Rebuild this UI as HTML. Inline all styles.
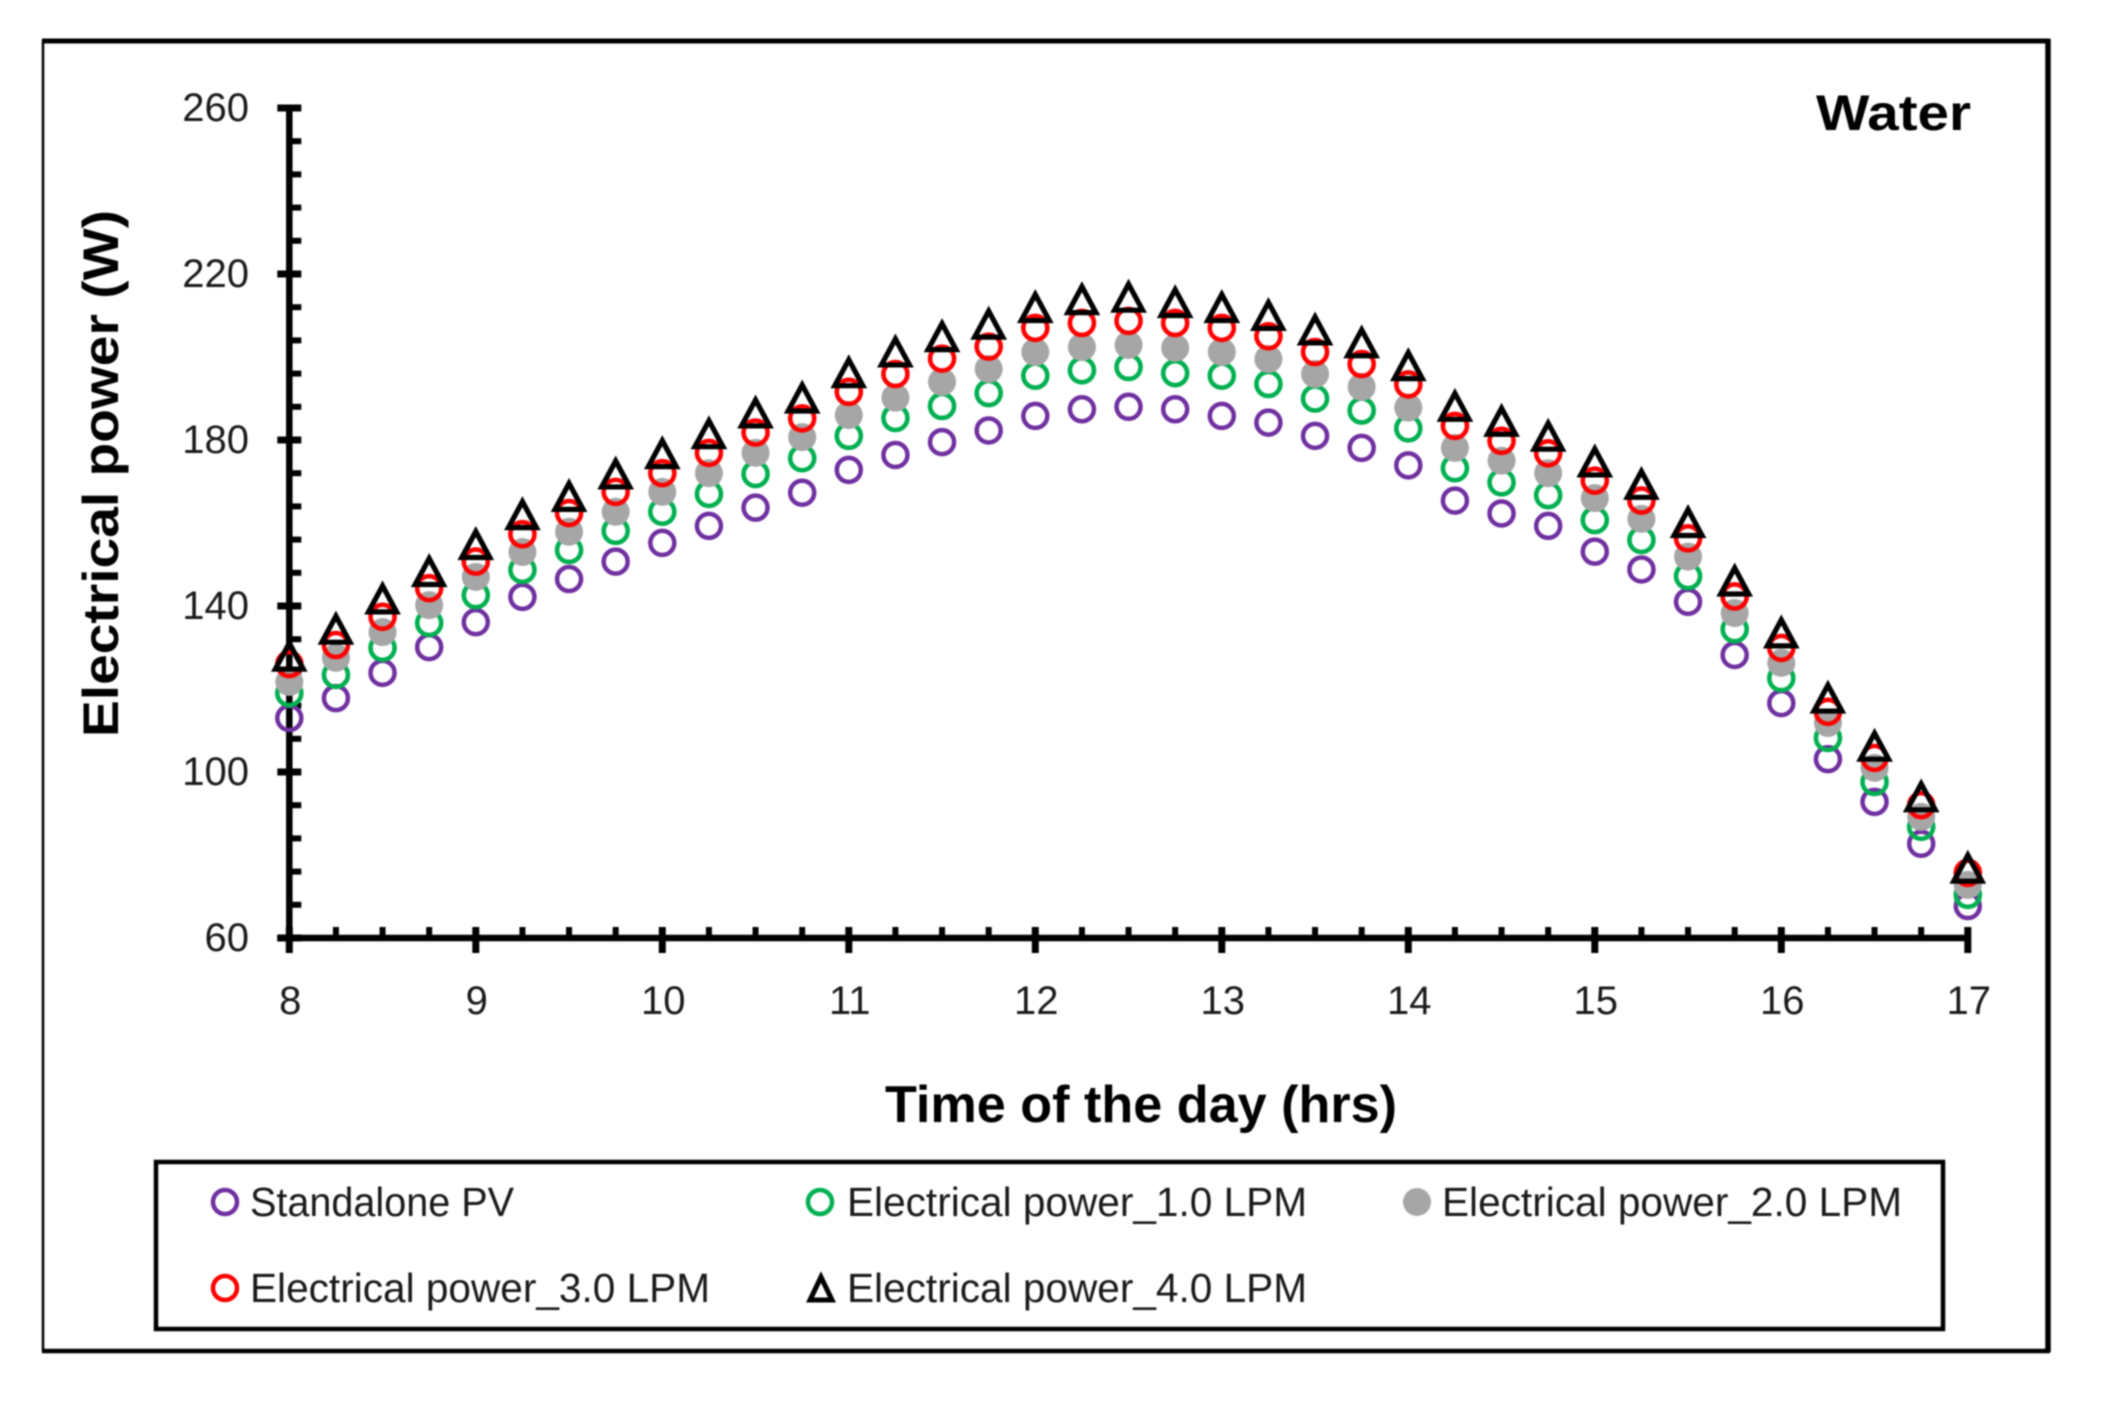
<!DOCTYPE html>
<html lang="en">
<head>
<meta charset="utf-8">
<title>Electrical power vs time of day - Water</title>
<style>
  html, body { margin: 0; padding: 0; background: #fff; }
  body { width: 2102px; height: 1402px; overflow: hidden; }
  svg { display: block; filter: blur(0.9px); }
  text { font-family: "Liberation Sans", sans-serif; fill: #1a1a1a; }
  .bold { font-weight: bold; fill: #000; }
</style>
</head>
<body>
<svg id="chart" xmlns="http://www.w3.org/2000/svg" width="2102" height="1402" viewBox="0 0 2102 1402">
  <rect x="0" y="0" width="2102" height="1402" fill="#fff"/>
  <g stroke="#000" fill="none">
    <line x1="42" y1="41" x2="2050" y2="41" stroke-width="5"/>
    <line x1="43" y1="40" x2="43" y2="1352" stroke-width="2.5"/>
    <line x1="2048" y1="39" x2="2048" y2="1352" stroke-width="5.5"/>
    <line x1="42" y1="1351" x2="2050" y2="1351" stroke-width="4.5"/>
  </g>
  <text class="bold" x="1816" y="130" font-size="50" textLength="155" lengthAdjust="spacingAndGlyphs">Water</text>
  <text class="bold" x="885" y="1122" font-size="52" textLength="512" lengthAdjust="spacingAndGlyphs">Time of the day (hrs)</text>
  <text class="bold" transform="translate(118,737) rotate(-90)" x="0" y="0" font-size="50" textLength="527" lengthAdjust="spacingAndGlyphs">Electrical power (W)</text>
  <g id="axes"></g>
  <g id="marks"></g>
  <g>
    <rect x="156" y="1162" width="1787" height="167" fill="none" stroke="#000" stroke-width="4.5"/>
    <g>
      <circle cx="225" cy="1202" r="12" fill="none" stroke="#7030a0" stroke-width="4.5"/>
      <text x="250" y="1216" font-size="41" textLength="264" lengthAdjust="spacingAndGlyphs">Standalone PV</text>
    </g>
    <g>
      <circle cx="820" cy="1202" r="12" fill="none" stroke="#00b050" stroke-width="4.5"/>
      <text x="847" y="1216" font-size="41" textLength="460" lengthAdjust="spacingAndGlyphs">Electrical power_1.0 LPM</text>
    </g>
    <g>
      <circle cx="1417" cy="1202" r="14" fill="#a6a6a6"/>
      <text x="1442" y="1216" font-size="41" textLength="460" lengthAdjust="spacingAndGlyphs">Electrical power_2.0 LPM</text>
    </g>
    <g>
      <circle cx="225" cy="1288" r="12" fill="none" stroke="#ff0000" stroke-width="4.5"/>
      <text x="250" y="1302" font-size="41" textLength="460" lengthAdjust="spacingAndGlyphs">Electrical power_3.0 LPM</text>
    </g>
    <g>
      <path d="M821 1277 L810 1300 L832 1300 Z" fill="none" stroke="#000" stroke-width="5"/>
      <text x="847" y="1302" font-size="41" textLength="460" lengthAdjust="spacingAndGlyphs">Electrical power_4.0 LPM</text>
    </g>
  </g>
</svg>
<script>
const hours = [8,8.25,8.5,8.75,9,9.25,9.5,9.75,10,10.25,10.5,10.75,11,11.25,11.5,11.75,12,12.25,12.5,12.75,13,13.25,13.5,13.75,14,14.25,14.5,14.75,15,15.25,15.5,15.75,16,16.25,16.5,16.75,17];
const standalonePV = [113,117.8,123.9,130.1,136.1,142.2,146.5,150.7,155.2,159.3,163.7,167.3,172.8,176.4,179.5,182.3,185.8,187.4,188,187.4,185.8,184.2,181,178.1,173.9,165.4,162.3,159.3,153.1,148.8,141,128.2,116.6,103.1,92.8,82.7,67.7];
const power1LPM = [119,123.4,129.9,135.9,142.6,148.7,153.5,158.1,162.7,167,171.8,175.6,181,185.3,188.2,191.3,195.5,196.8,197.6,196.1,195.5,193.5,190,187.1,182.8,173.2,169.8,166.7,160.7,155.9,147.2,134.4,122.6,108.2,97.6,86.8,70.4];
const power2LPM = [121.7,127.5,133.7,140.2,147,153,157.9,162.7,167.5,172,176.9,180.7,186,190.2,194,197.1,201.2,202.4,202.9,202.2,201.2,199.5,195.9,192.8,187.8,178.1,175,172,166,161,151.9,138.3,126.3,111.8,101,89.2,72.8];
const power3LPM = [126,130.6,137.4,144.3,150.7,157.3,162.4,167.5,172,176.9,181.8,185.2,191.6,195.9,199.6,202.5,207,208.2,208.7,208.2,207,205,201.2,198.3,193.4,183.4,179.8,176.8,170.2,165.4,156.3,142.3,129.9,114.5,103.4,92,75.7];
const power4LPM = [128.4,134.9,142.2,148.8,155.3,162.5,166.9,172.3,177.2,182,187,190.6,196.7,201.7,205.4,208.4,212.4,214.3,214.9,213.6,212.4,210.5,207,203.9,198.4,188.6,185,181.4,175.2,169.8,160.6,146.5,134,118.3,106.7,94.5,77.3];
const yTickLabels = ["60","100","140","180","220","260"];
const xTickLabels = ["8","9","10","11","12","13","14","15","16","17"];

const SVGNS = "http://www.w3.org/2000/svg";
function xAxis(h) { return 289.3 + (h - 8) * 186.5; }
function yAxis(v) { return 938 - (v - 60) * 4.15; }
function make(tag, attrs) {
  const el = document.createElementNS(SVGNS, tag);
  for (const k in attrs) el.setAttribute(k, attrs[k]);
  return el;
}
const axes = document.getElementById("axes");
const marks = document.getElementById("marks");

const yLine = make("line", {x1: xAxis(8), x2: xAxis(8), y1: yAxis(260) - 3, y2: yAxis(60) + 3, stroke: "#000", "stroke-width": 6.5});


axes.appendChild(yLine);
const xLine = make("line", {x1: xAxis(8) - 12, x2: xAxis(17) + 3, y1: yAxis(60), y2: yAxis(60), stroke: "#000", "stroke-width": 6.5});


axes.appendChild(xLine);

yTickLabels.forEach(function (lab) {
  const v = Number(lab);
  const tick = make("line", {x1: xAxis(8) - 12, x2: xAxis(8) + 12, y1: yAxis(v), y2: yAxis(v), stroke: "#000", "stroke-width": 7});
  
  
  axes.appendChild(tick);
  const t = make("text", {x: 249, y: yAxis(v) + 13, "font-size": 40, "text-anchor": "end"});
  
  
  t.textContent = lab;
  axes.appendChild(t);
  if (v < 260) {
    for (let m = 1; m < 5; m++) {
      const minor = make("line", {x1: xAxis(8), x2: xAxis(8) + 12, y1: yAxis(v + m * 8), y2: yAxis(v + m * 8), stroke: "#000", "stroke-width": 6});
      
      
      axes.appendChild(minor);
    }
  }
});

xTickLabels.forEach(function (lab) {
  const h = Number(lab);
  const tick = make("line", {x1: xAxis(h), x2: xAxis(h), y1: yAxis(60) - 11, y2: yAxis(60) + 15, stroke: "#000", "stroke-width": 7});
  
  
  axes.appendChild(tick);
  const t = make("text", {x: xAxis(h) + 1, y: 1014, "font-size": 40, "text-anchor": "middle"});
  
  
  t.textContent = lab;
  axes.appendChild(t);
  if (h < 17) {
    for (let m = 1; m < 4; m++) {
      const mh = h + m * 0.25;
      const minor = make("line", {x1: xAxis(mh), x2: xAxis(mh), y1: yAxis(60) - 11, y2: yAxis(60), stroke: "#000", "stroke-width": 6});
      
      
      axes.appendChild(minor);
    }
  }
});

standalonePV.forEach(function (v, i) {
  const c = make("circle", {cx: xAxis(hours[i]), cy: yAxis(v), r: 12, fill: "none", stroke: "#7030a0", "stroke-width": 4.5});
  
  
  marks.appendChild(c);
});
power1LPM.forEach(function (v, i) {
  const c = make("circle", {cx: xAxis(hours[i]), cy: yAxis(v), r: 12, fill: "none", stroke: "#00b050", "stroke-width": 4.6});
  
  
  marks.appendChild(c);
});
power2LPM.forEach(function (v, i) {
  const c = make("circle", {cx: xAxis(hours[i]), cy: yAxis(v), r: 14, fill: "#a6a6a6"});
  
  
  marks.appendChild(c);
});
power3LPM.forEach(function (v, i) {
  const c = make("circle", {cx: xAxis(hours[i]), cy: yAxis(v), r: 12, fill: "none", stroke: "#ff0000", "stroke-width": 4.6});
  
  
  marks.appendChild(c);
});
power4LPM.forEach(function (v, i) {
  const cx = xAxis(hours[i]), cy = yAxis(v);
  const p = make("path", {d: "M" + cx + " " + (cy - 11) + " L" + (cx - 14) + " " + (cy + 15) + " L" + (cx + 14) + " " + (cy + 15) + " Z", fill: "none", stroke: "#000", "stroke-width": 5.2, "stroke-linejoin": "miter"});
  
  
  marks.appendChild(p);
});
</script>
</body>
</html>
